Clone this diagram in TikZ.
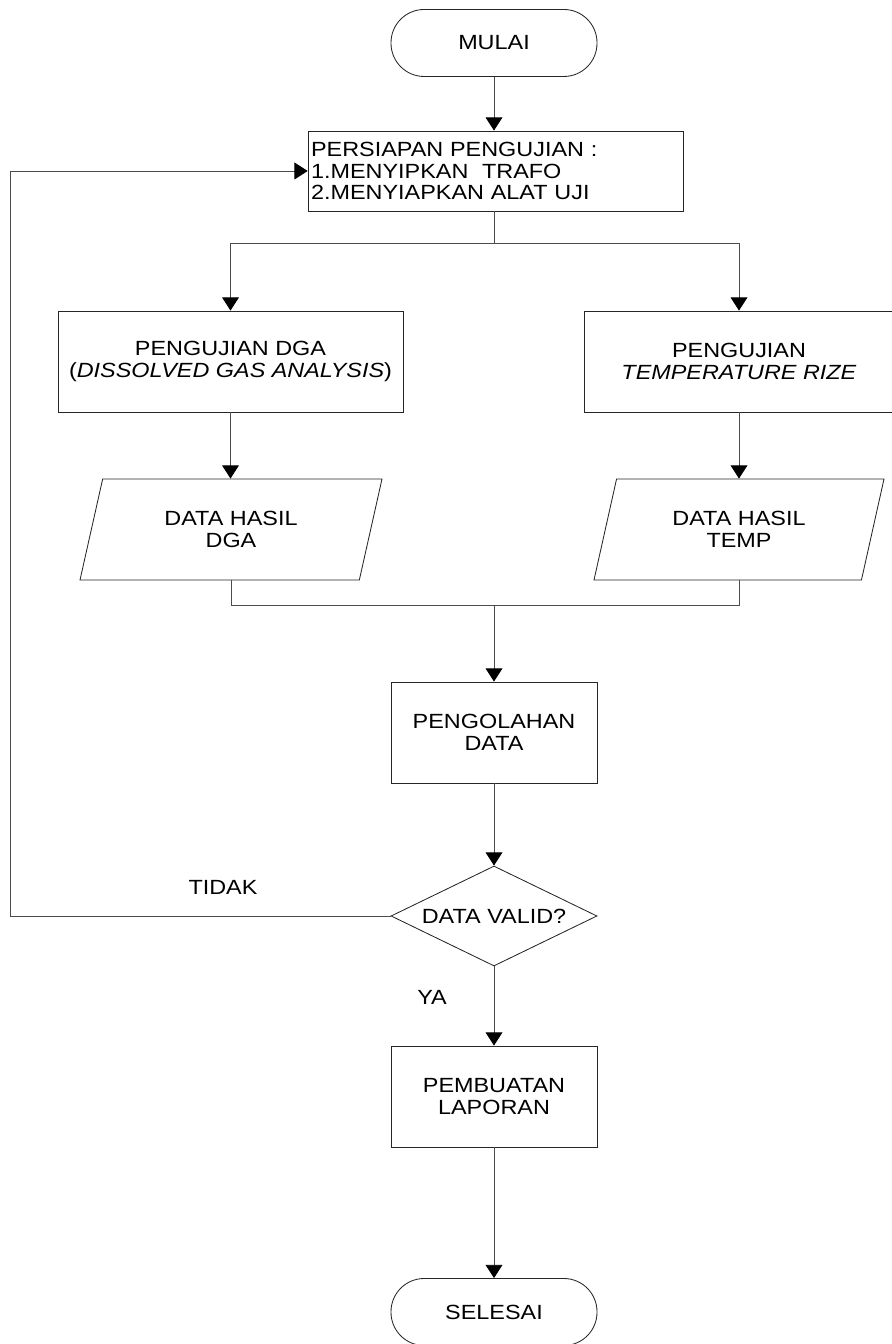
\documentclass[tikz,border=0pt]{standalone}
\usepackage{fontspec}
\setmainfont{Liberation Sans}[FakeStretch=1.14]
\usetikzlibrary{arrows.meta,shapes.geometric}

\begin{document}
\begin{tikzpicture}[
  txt/.style={font=\fontsize{14.6pt}{15.6pt}\selectfont, align=center, inner sep=1pt},
  term/.style={txt, draw=black!85, line width=0.6pt, rounded corners=8.3mm,
    minimum width=5.15cm, minimum height=1.675cm},
  proc/.style={txt, draw=black!85, line width=0.6pt, minimum height=2.525cm},
  io/.style={txt, draw=black!85, line width=0.6pt, trapezium, trapezium left angle=60,
    trapezium right angle=120, trapezium stretches body, minimum height=2.525cm},
  dec/.style={txt, draw=black!85, line width=0.6pt, diamond, shape aspect=2.05,
    minimum width=5.15cm, minimum height=2.5cm, inner sep=0pt},
  link/.style={draw=black!70, line width=0.6pt},
  arr/.style={link, -{Triangle[length=3.3mm,width=4.2mm,color=black]}}]
  \useasboundingbox (0,0) rectangle (22.275,33.6);
  \node[term] (MULAI) at (12.35,32.525) {MULAI};
  \node[proc, align=left, inner xsep=0.075cm, text width=9.225cm, minimum height=2.0cm]
    (PREP) at (12.39,29.325) {PERSIAPAN PENGUJIAN :\\1.MENYIPKAN\ \ TRAFO\\2.MENYIAPKAN ALAT UJI};
  \node[proc, minimum width=8.625cm] (DGA) at (5.7625,24.5625)
    {PENGUJIAN DGA\\(\textit{DISSOLVED GAS ANALYSIS})};
  \node[proc, minimum width=7.75cm] (TEMP) at (18.475,24.5625)
    {PENGUJIAN\\\textit{TEMPERATURE RIZE}};
  \node[io, minimum width=7.55cm] (HDGA) at (5.775,20.3625) {DATA HASIL\\DGA};
  \node[io, minimum width=7.25cm] (HTEMP) at (18.475,20.3625) {DATA HASIL\\TEMP};
  \node[proc, minimum width=5.15cm] (OLAH) at (12.35,15.2875) {PENGOLAHAN\\DATA};
  \node[dec] (VALID) at (12.35,10.7) {DATA VALID?};
  \node[proc, minimum width=5.15cm] (LAPOR) at (12.35,6.1875) {PEMBUATAN\\LAPORAN};
  \node[term] (SELESAI) at (12.35,0.8) {SELESAI};
  \node[txt] (TIDAK) at (5.575,11.425) {TIDAK};
  \node[txt] (YA) at (10.8,8.675) {YA};
  \coordinate (split) at (12.35,27.525);
  \coordinate (join) at (12.35,18.475);
  \coordinate (back) at (0.25,10.7);
  % connectors
  \draw[arr] (MULAI.south) -- (MULAI.south |- PREP.north);
  \draw[link] (split |- PREP.south) -- (split);
  \draw[arr] (split) -| (DGA.north);
  \draw[arr] (split) -| (TEMP.north);
  \draw[arr] (DGA.south) -- (DGA.south |- HDGA.north);
  \draw[arr] (TEMP.south) -- (TEMP.south |- HTEMP.north);
  \draw[link] (HDGA.south) |- (join) -| (HTEMP.south);
  \draw[arr] (join) -- (OLAH.north);
  \draw[arr] (OLAH) -- (VALID);
  \draw[arr] (VALID) -- (LAPOR);
  \draw[arr] (LAPOR) -- (SELESAI);
  \draw[arr] (VALID.west) -- (back) |- (PREP.west);
\end{tikzpicture}
\end{document}
